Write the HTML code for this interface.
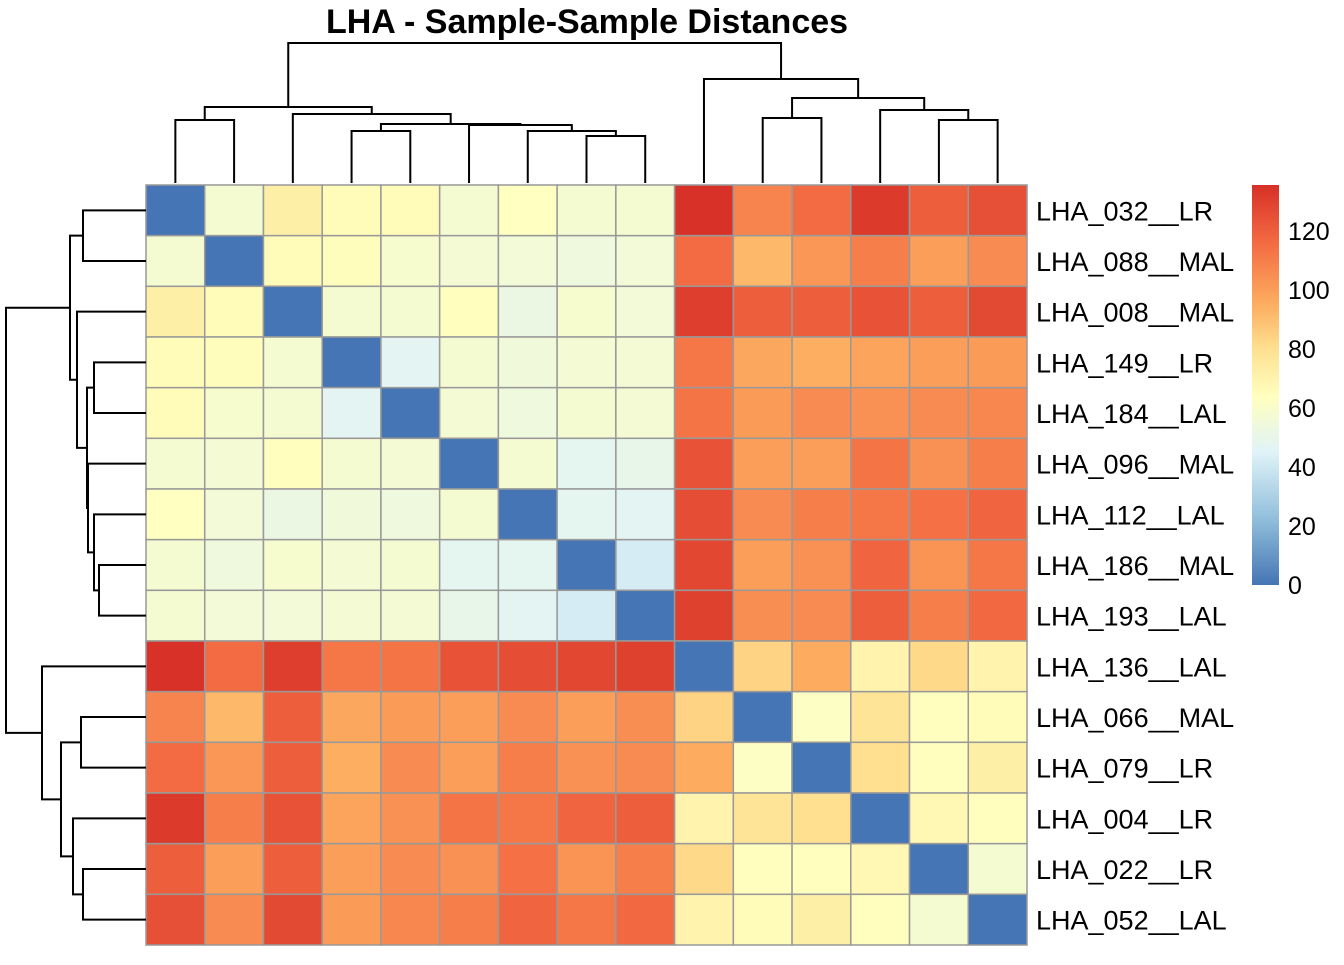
<!DOCTYPE html>
<html><head><meta charset="utf-8"><style>
body{margin:0;background:#fff}
svg text{font-family:"Liberation Sans",Arial,sans-serif}
</style></head><body>
<svg id="c" width="1344" height="960" xmlns="http://www.w3.org/2000/svg"></svg>
<script>
const labels=["LHA_032__LR","LHA_088__MAL","LHA_008__MAL","LHA_149__LR","LHA_184__LAL","LHA_096__MAL","LHA_112__LAL","LHA_186__MAL","LHA_193__LAL","LHA_136__LAL","LHA_066__MAL","LHA_079__LR","LHA_004__LR","LHA_022__LR","LHA_052__LAL"];
const values=[
[0,58,72,66,66,58,63,58,58,135,108,116,132,120,125],
[58,0,66,65,59,57,56,54,56,116,92,102,110,100,106],
[72,66,0,58,58,64,52,59,56,131,120,120,124,120,127],
[66,65,58,0,47,58,55,57,57,112,97,95,98,100,101],
[66,59,58,47,0,57,54,58,57,113,101,106,104,106,107],
[58,57,64,58,57,0,58,48,50,124,100,100,113,104,110],
[63,56,52,55,54,58,0,48,47,126,106,110,112,114,118],
[58,54,59,57,58,48,48,0,42,128,100,104,118,103,112],
[58,56,56,57,57,50,47,42,0,130,105,106,120,110,117],
[135,116,131,112,113,124,126,128,130,0,84,96,70,82,70],
[108,92,120,97,101,100,106,100,105,84,0,62,78,64,66],
[116,102,120,95,106,100,110,104,106,96,62,0,80,64,72],
[132,110,124,98,104,113,112,118,120,70,78,80,0,68,64],
[120,100,120,100,106,104,114,103,110,82,64,64,68,0,58],
[125,106,127,101,107,110,118,112,117,70,66,72,64,58,0]];
const merges=[[-1,-2,63],[-4,-5,52],[-8,-9,47],[-7,3,52],[-6,4,58],[2,5,59],[-3,6,69],[1,7,76],
[-11,-12,65],[-14,-15,63],[-13,10,73],[9,11,85],[-10,12,104],[8,13,140]];
const legendTicks=[0,20,40,60,80,100,120];
const vmax=135.6;
const X0=146,Y0=185,W=881,H=760,n=15,cw=W/n,ch=H/n;
const svg=document.getElementById('c');const NS="http://www.w3.org/2000/svg";
function mk(t,a,p){const e=document.createElementNS(NS,t);for(const k in a)e.setAttribute(k,a[k]);(p||svg).appendChild(e);return e;}
const pal=["#4575B4","#91BFDB","#E0F3F8","#FFFFBF","#FEE090","#FDAE61","#F46D43","#D73027"];
const palPos=[0,0.166,0.333,0.47,0.59,0.7,0.85,1];
function hex(h){return[1,3,5].map(i=>parseInt(h.substr(i,2),16));}
function col(v){const t=Math.max(0,Math.min(1,v/vmax));let i=0;while(i<palPos.length-2&&t>palPos[i+1])i++;
const f=(t-palPos[i])/(palPos[i+1]-palPos[i]);const a=hex(pal[i]),b=hex(pal[i+1]);
return"rgb("+a.map((x,k)=>Math.round(x+(b[k]-x)*f)).join(",")+")";}
const cells=mk('g',{});


for(let r=0;r<n;r++)for(let c=0;c<n;c++){
const e=mk('rect',{x:X0+c*cw,y:Y0+r*ch,width:cw,height:ch,fill:col(values[r][c]),stroke:"#999",'stroke-width':1.5},cells);

}
labels.forEach((l,i)=>{const t=mk('text',{x:1036,y:Y0+(i+0.5)*ch+10,'font-size':27,fill:'#000'});t.textContent=l;

});
function layout(){const pos=[];merges.forEach(m=>{const g=x=>x<0?{p:-x-1+0.5,h:0}:pos[x-1];const a=g(m[0]),b=g(m[1]);pos.push({p:(a.p+b.p)/2,h:m[2],a,b});});return pos;}
const pos=layout();
const rd=mk('g',{stroke:'#000','stroke-width':2,fill:'none'});


const cd=mk('g',{stroke:'#000','stroke-width':2,fill:'none'});


pos.forEach(m=>{
const ya=Y0+m.a.p*ch,yb=Y0+m.b.p*ch,x=X0-m.h;
mk('path',{d:`M${X0-m.a.h},${ya}H${x}V${yb}H${X0-m.b.h}`},rd);
const xa=X0+m.a.p*cw,xb=X0+m.b.p*cw,y=Y0-2-m.h;
mk('path',{d:`M${xa},${Y0-2-m.a.h}V${y}H${xb}V${Y0-2-m.b.h}`},cd);});
const tt=mk('text',{x:587,y:33,'font-size':34,'font-weight':'bold','text-anchor':'middle'});tt.textContent="LHA - Sample-Sample Distances";


const defs=mk('defs',{});const lg=mk('linearGradient',{id:'lg',x1:0,y1:1,x2:0,y2:0},defs);
pal.forEach((p,i)=>mk('stop',{offset:palPos[i],'stop-color':p},lg));
const LT=185,LB=585;
const lr=mk('rect',{x:1252,y:LT,width:27,height:LB-LT,fill:'url(#lg)'});


legendTicks.forEach(v=>{const y=LB-(v/vmax)*(LB-LT);const t=mk('text',{x:1288,y:y+9,'font-size':25});t.textContent=v;

});
</script>
</body></html>
